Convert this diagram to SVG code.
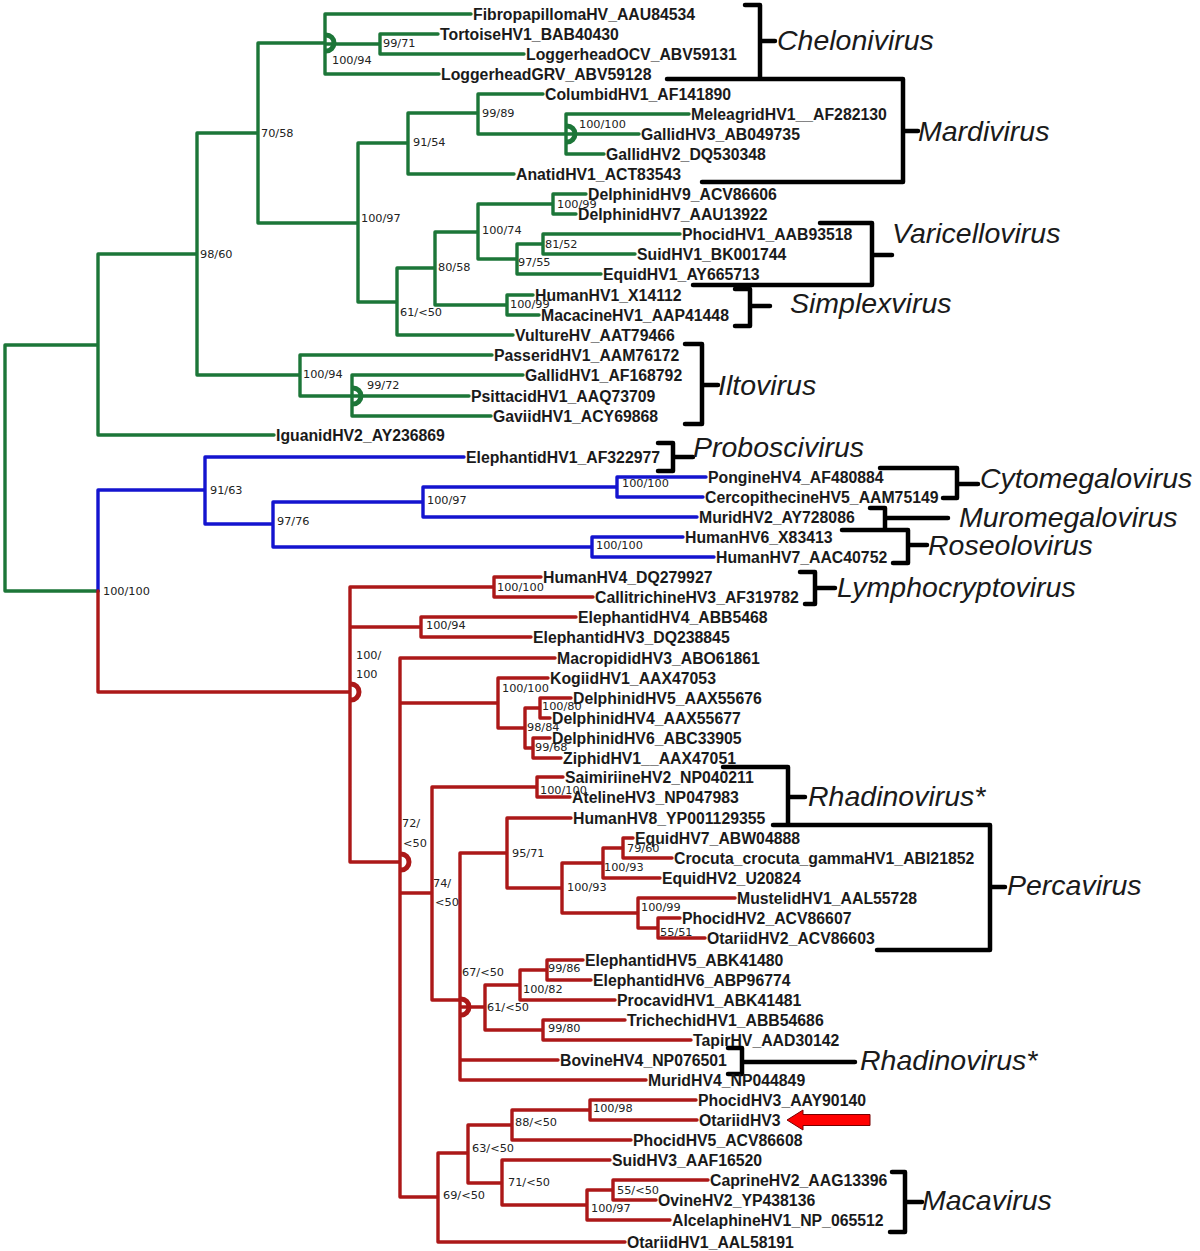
<svg xmlns="http://www.w3.org/2000/svg" width="1200" height="1251" viewBox="0 0 1200 1251">
<style>
.g{stroke:#1c7638;}
.b{stroke:#1414cf;}
.r{stroke:#ac1818;}
.br{fill:none;stroke-width:3.4;stroke-linecap:round;stroke-linejoin:round;}
.semi{fill:none;stroke-width:5;}
.clade{fill:none;stroke:#000;stroke-width:4.5;stroke-linecap:round;stroke-linejoin:round;}
.leaf{font-family:"Liberation Sans",Arial,sans-serif;font-weight:bold;font-size:15.8px;fill:#1a1a1a;}
.sup{font-family:"DejaVu Sans",Verdana,sans-serif;font-size:11.3px;fill:#222;}
.cn{font-family:"Liberation Sans",Arial,sans-serif;font-style:italic;font-size:28.5px;fill:#1a1a1a;}
</style>
<rect width="1200" height="1251" fill="#fff"/>
<g id="connectors">
<path class="br g" d="M5,345 V591 M5,345 H98 M5,591 H98
M98,254 V435 M98,254 H197 M98,435 H274
M197,133 V375 M197,133 H258 M197,375 H300
M258,43 V223 M258,43 H325 M258,223 H358
M325,14 V74 M325,14 H471 M325,74 H439 M325,44 H380
M380,34 V54 M380,34 H438 M380,54 H524
M358,143 V302 M358,143 H408 M358,302 H397
M408,113 V174 M408,113 H478 M408,174 H514
M478,94 V134 M478,94 H543 M478,134 H566
M566,114 V154 M566,114 H689 M566,134 H639 M566,154 H604
M397,268 V335 M397,268 H435 M397,335 H513
M435,232 V305 M435,232 H478 M435,305 H507
M478,204 V259 M478,204 H553 M478,259 H517
M553,194 V214 M553,194 H586 M553,214 H576
M517,244 V274 M517,244 H543 M517,274 H601
M543,234 V254 M543,234 H680 M543,254 H635
M507,295 V315 M507,295 H533 M507,315 H539
M300,355 V396 M300,355 H492 M300,396 H352
M352,375 V416 M352,375 H523 M352,396 H469 M352,416 H491"/>
<path class="br b" d="M98,490 V591 M98,490 H205
M205,457 V524 M205,457 H464 M205,524 H273
M273,502 V547 M273,502 H423 M273,547 H592
M423,487 V517 M423,487 H617 M423,517 H697
M617,477 V497 M617,477 H706 M617,497 H703
M592,537 V557 M592,537 H683 M592,557 H714"/>
<path class="br r" d="M98,591 V692 H350
M350,587 V862 M350,587 H494 M350,627 H421 M350,862 H400
M494,577 V597 M494,577 H541 M494,597 H593
M421,617 V637 M421,617 H576 M421,637 H531
M400,658 V1197 M400,658 H555 M400,703 H498 M400,893 H432 M400,1197 H438
M498,678 V728 M498,678 H548 M498,728 H525
M525,708 V748 M525,708 H540 M525,748 H533
M540,698 V718 M540,698 H571 M540,718 H550
M533,738 V758 M533,738 H550 M533,758 H561
M432,787 V1000 M432,787 H537 M432,1000 H460
M537,777 V797 M537,777 H563 M537,797 H570
M460,853 V1080 M460,853 H507 M460,1007 H485 M460,1060 H558 M460,1080 H646
M507,818 V888 M507,818 H571 M507,888 H562
M562,863 V913 M562,863 H603 M562,913 H638
M603,848 V878 M603,848 H623 M603,878 H660
M623,838 V858 M623,838 H633 M623,858 H672
M638,898 V928 M638,898 H735 M638,928 H658
M658,918 V938 M658,918 H680 M658,938 H705
M485,985 V1030 M485,985 H520 M485,1030 H543
M520,970 V1000 M520,970 H547 M520,1000 H615
M547,960 V980 M547,960 H583 M547,980 H591
M543,1020 V1040 M543,1020 H625 M543,1040 H691
M438,1153 V1242 M438,1153 H468 M438,1242 H625
M468,1125 V1183 M468,1125 H512 M468,1183 H502
M512,1110 V1140 M512,1110 H590 M512,1140 H631
M590,1100 V1120 M590,1100 H696 M590,1120 H697
M502,1160 V1205 M502,1160 H610 M502,1205 H587
M587,1190 V1220 M587,1190 H613 M587,1220 H670
M613,1180 V1200 M613,1180 H708 M613,1200 H656"/>
<g id="semicircles">
<path class="semi g" d="M326,35 A8,8 0 0 1 326,51"/>
<path class="semi g" d="M567,126 A8,8 0 0 1 567,142"/>
<path class="semi g" d="M353,388 A8,8 0 0 1 353,404"/>
<path class="semi r" d="M351,684 A8,8 0 0 1 351,700"/>
<path class="semi r" d="M401,854 A8,8 0 0 1 401,870"/>
<path class="semi r" d="M461,999 A8,8 0 0 1 461,1015"/>
</g>
<g id="clade-brackets">
<path class="clade" d="M745,5 H760 V79 M760,41 H775 M667,79 H903 V182 H702 M903,131 H918"/>
<path class="clade" d="M820,223 H872 V285 H693 M872,255 H892"/>
<path class="clade" d="M735,289 H750 V326 H735 M750,306 H770"/>
<path class="clade" d="M685,344 H702 V424 H685 M702,385 H718"/>
<path class="clade" d="M658,443 H673 V471 H658 M673,457 H693"/>
<path class="clade" d="M880,468 H957 V498 H943 M957,484 H978"/>
<path class="clade" d="M870,508 H885 V530 M885,518 H948 M842,530 H908 V563 H893 M908,545 H927"/>
<path class="clade" d="M800,572 H815 V604 H805 M815,588 H835"/>
<path class="clade" d="M723,767 H788 V825 M788,797 H805 M773,825 H990 V950 H877 M990,887 H1005"/>
<path class="clade" d="M728,1048 H742 V1074 H728 M742,1062 H855"/>
<path class="clade" d="M892,1172 H905 V1232 H890 M905,1202 H922"/>
</g>
<polygon id="arrow" points="787,1120 803,1110 803,1114.5 870,1114.5 870,1125.5 803,1125.5 803,1130" fill="#f00" stroke="#700" stroke-width="1"/>
</g>
<g id="leaves" class="leaf">
<g id="n1"><text x="473" y="19.5">FibropapillomaHV_AAU84534</text></g>
<g id="n2"><text x="440" y="39.5">TortoiseHV1_BAB40430</text></g>
<g id="n3"><text x="526" y="59.5">LoggerheadOCV_ABV59131</text></g>
<g id="n4"><text x="441" y="79.5">LoggerheadGRV_ABV59128</text></g>
<g id="n5"><text x="545" y="99.5">ColumbidHV1_AF141890</text></g>
<g id="n6"><text x="691" y="119.5">MeleagridHV1__AF282130</text></g>
<g id="n7"><text x="641" y="139.5">GallidHV3_AB049735</text></g>
<g id="n8"><text x="606" y="159.5">GallidHV2_DQ530348</text></g>
<g id="n9"><text x="516" y="179.5">AnatidHV1_ACT83543</text></g>
<g id="n10"><text x="588" y="199.5">DelphinidHV9_ACV86606</text></g>
<g id="n11"><text x="578" y="219.5">DelphinidHV7_AAU13922</text></g>
<g id="n12"><text x="682" y="239.5">PhocidHV1_AAB93518</text></g>
<g id="n13"><text x="637" y="259.5">SuidHV1_BK001744</text></g>
<g id="n14"><text x="603" y="279.5">EquidHV1_AY665713</text></g>
<g id="n15"><text x="535" y="300.5">HumanHV1_X14112</text></g>
<g id="n16"><text x="541" y="320.5">MacacineHV1_AAP41448</text></g>
<g id="n17"><text x="515" y="340.5">VultureHV_AAT79466</text></g>
<g id="n18"><text x="494" y="360.5">PasseridHV1_AAM76172</text></g>
<g id="n19"><text x="525" y="380.5">GallidHV1_AF168792</text></g>
<g id="n20"><text x="471" y="401.5">PsittacidHV1_AAQ73709</text></g>
<g id="n21"><text x="493" y="421.5">GaviidHV1_ACY69868</text></g>
<g id="n22"><text x="276" y="440.5">IguanidHV2_AY236869</text></g>
<g id="n23"><text x="466" y="462.5">ElephantidHV1_AF322977</text></g>
<g id="n24"><text x="708" y="482.5">PongineHV4_AF480884</text></g>
<g id="n25"><text x="705" y="502.5">CercopithecineHV5_AAM75149</text></g>
<g id="n26"><text x="699" y="522.5">MuridHV2_AY728086</text></g>
<g id="n27"><text x="685" y="542.5">HumanHV6_X83413</text></g>
<g id="n28"><text x="716" y="562.5">HumanHV7_AAC40752</text></g>
<g id="n29"><text x="543" y="582.5">HumanHV4_DQ279927</text></g>
<g id="n30"><text x="595" y="602.5">CallitrichineHV3_AF319782</text></g>
<g id="n31"><text x="578" y="622.5">ElephantidHV4_ABB5468</text></g>
<g id="n32"><text x="533" y="642.5">ElephantidHV3_DQ238845</text></g>
<g id="n33"><text x="557" y="663.5">MacropididHV3_ABO61861</text></g>
<g id="n34"><text x="550" y="683.5">KogiidHV1_AAX47053</text></g>
<g id="n35"><text x="573" y="703.5">DelphinidHV5_AAX55676</text></g>
<g id="n36"><text x="552" y="723.5">DelphinidHV4_AAX55677</text></g>
<g id="n37"><text x="552" y="743.5">DelphinidHV6_ABC33905</text></g>
<g id="n38"><text x="563" y="763.5">ZiphidHV1__AAX47051</text></g>
<g id="n39"><text x="565" y="782.5">SaimiriineHV2_NP040211</text></g>
<g id="n40"><text x="572" y="802.5">AtelineHV3_NP047983</text></g>
<g id="n41"><text x="573" y="823.5">HumanHV8_YP001129355</text></g>
<g id="n42"><text x="635" y="843.5">EquidHV7_ABW04888</text></g>
<g id="n43"><text x="674" y="863.5">Crocuta_crocuta_gammaHV1_ABI21852</text></g>
<g id="n44"><text x="662" y="883.5">EquidHV2_U20824</text></g>
<g id="n45"><text x="737" y="903.5">MustelidHV1_AAL55728</text></g>
<g id="n46"><text x="682" y="923.5">PhocidHV2_ACV86607</text></g>
<g id="n47"><text x="707" y="943.5">OtariidHV2_ACV86603</text></g>
<g id="n48"><text x="585" y="965.5">ElephantidHV5_ABK41480</text></g>
<g id="n49"><text x="593" y="985.5">ElephantidHV6_ABP96774</text></g>
<g id="n50"><text x="617" y="1005.5">ProcavidHV1_ABK41481</text></g>
<g id="n51"><text x="627" y="1025.5">TrichechidHV1_ABB54686</text></g>
<g id="n52"><text x="693" y="1045.5">TapirHV_AAD30142</text></g>
<g id="n53"><text x="560" y="1065.5">BovineHV4_NP076501</text></g>
<g id="n54"><text x="648" y="1085.5">MuridHV4_NP044849</text></g>
<g id="n55"><text x="698" y="1105.5">PhocidHV3_AAY90140</text></g>
<g id="n56"><text x="699" y="1125.5">OtariidHV3</text></g>
<g id="n57"><text x="633" y="1145.5">PhocidHV5_ACV86608</text></g>
<g id="n58"><text x="612" y="1165.5">SuidHV3_AAF16520</text></g>
<g id="n59"><text x="710" y="1185.5">CaprineHV2_AAG13396</text></g>
<g id="n60"><text x="658" y="1205.5">OvineHV2_YP438136</text></g>
<g id="n61"><text x="672" y="1225.5">AlcelaphineHV1_NP_065512</text></g>
<g id="n62"><text x="627" y="1247.5">OtariidHV1_AAL58191</text></g>
</g>
<g id="support" class="sup">
<g id="s1"><text x="383" y="47">99/71</text></g>
<g id="s2"><text x="332" y="64">100/94</text></g>
<g id="s3"><text x="261" y="137">70/58</text></g>
<g id="s4"><text x="200" y="258">98/60</text></g>
<g id="s5"><text x="361" y="222">100/97</text></g>
<g id="s6"><text x="482" y="117">99/89</text></g>
<g id="s7"><text x="413" y="146">91/54</text></g>
<g id="s8"><text x="579" y="128">100/100</text></g>
<g id="s9"><text x="557" y="208">100/99</text></g>
<g id="s10"><text x="482" y="234">100/74</text></g>
<g id="s11"><text x="545" y="248">81/52</text></g>
<g id="s12"><text x="518" y="266">97/55</text></g>
<g id="s13"><text x="438" y="271">80/58</text></g>
<g id="s14"><text x="510" y="308">100/99</text></g>
<g id="s15"><text x="400" y="316">61/&lt;50</text></g>
<g id="s16"><text x="303" y="378">100/94</text></g>
<g id="s17"><text x="367" y="389">99/72</text></g>
<g id="s18"><text x="103" y="595">100/100</text></g>
<g id="s19"><text x="210" y="494">91/63</text></g>
<g id="s20"><text x="277" y="525">97/76</text></g>
<g id="s21"><text x="427" y="504">100/97</text></g>
<g id="s22"><text x="622" y="487">100/100</text></g>
<g id="s23"><text x="596" y="549">100/100</text></g>
<g id="s24"><text x="497" y="591">100/100</text></g>
<g id="s25"><text x="426" y="629">100/94</text></g>
<g id="s26"><text x="356" y="659">100/</text><text x="356" y="678">100</text></g>
<g id="s27"><text x="502" y="692">100/100</text></g>
<g id="s28"><text x="542" y="710">100/80</text></g>
<g id="s29"><text x="527" y="731">98/84</text></g>
<g id="s30"><text x="535" y="751">99/68</text></g>
<g id="s31"><text x="540" y="794">100/100</text></g>
<g id="s32"><text x="402" y="827">72/</text><text x="403" y="847">&lt;50</text></g>
<g id="s33"><text x="433" y="887">74/</text><text x="435" y="906">&lt;50</text></g>
<g id="s34"><text x="512" y="857">95/71</text></g>
<g id="s35"><text x="627" y="852">79/60</text></g>
<g id="s36"><text x="604" y="871">100/93</text></g>
<g id="s37"><text x="567" y="891">100/93</text></g>
<g id="s38"><text x="641" y="911">100/99</text></g>
<g id="s39"><text x="660" y="936">55/51</text></g>
<g id="s40"><text x="462" y="976">67/&lt;50</text></g>
<g id="s41"><text x="548" y="972">99/86</text></g>
<g id="s42"><text x="523" y="993">100/82</text></g>
<g id="s43"><text x="487" y="1011">61/&lt;50</text></g>
<g id="s44"><text x="548" y="1032">99/80</text></g>
<g id="s45"><text x="593" y="1112">100/98</text></g>
<g id="s46"><text x="515" y="1126">88/&lt;50</text></g>
<g id="s47"><text x="472" y="1152">63/&lt;50</text></g>
<g id="s48"><text x="508" y="1186">71/&lt;50</text></g>
<g id="s49"><text x="617" y="1194">55/&lt;50</text></g>
<g id="s50"><text x="591" y="1212">100/97</text></g>
<g id="s51"><text x="443" y="1199">69/&lt;50</text></g>
</g>
<g id="clades" class="cn">
<g id="c1"><text x="777" y="50">Chelonivirus</text></g>
<g id="c2"><text x="918" y="141">Mardivirus</text></g>
<g id="c3"><text x="892" y="243">Varicellovirus</text></g>
<g id="c4"><text x="790" y="313">Simplexvirus</text></g>
<g id="c5"><text x="718" y="395">Iltovirus</text></g>
<g id="c6"><text x="693" y="457">Proboscivirus</text></g>
<g id="c7"><text x="980" y="488">Cytomegalovirus</text></g>
<g id="c8"><text x="959" y="527">Muromegalovirus</text></g>
<g id="c9"><text x="928" y="555">Roseolovirus</text></g>
<g id="c10"><text x="837" y="597">Lymphocryptovirus</text></g>
<g id="c11"><text x="808" y="806">Rhadinovirus*</text></g>
<g id="c12"><text x="1007" y="895">Percavirus</text></g>
<g id="c13"><text x="860" y="1070">Rhadinovirus*</text></g>
<g id="c14"><text x="922" y="1210">Macavirus</text></g>
</g>
</svg>
